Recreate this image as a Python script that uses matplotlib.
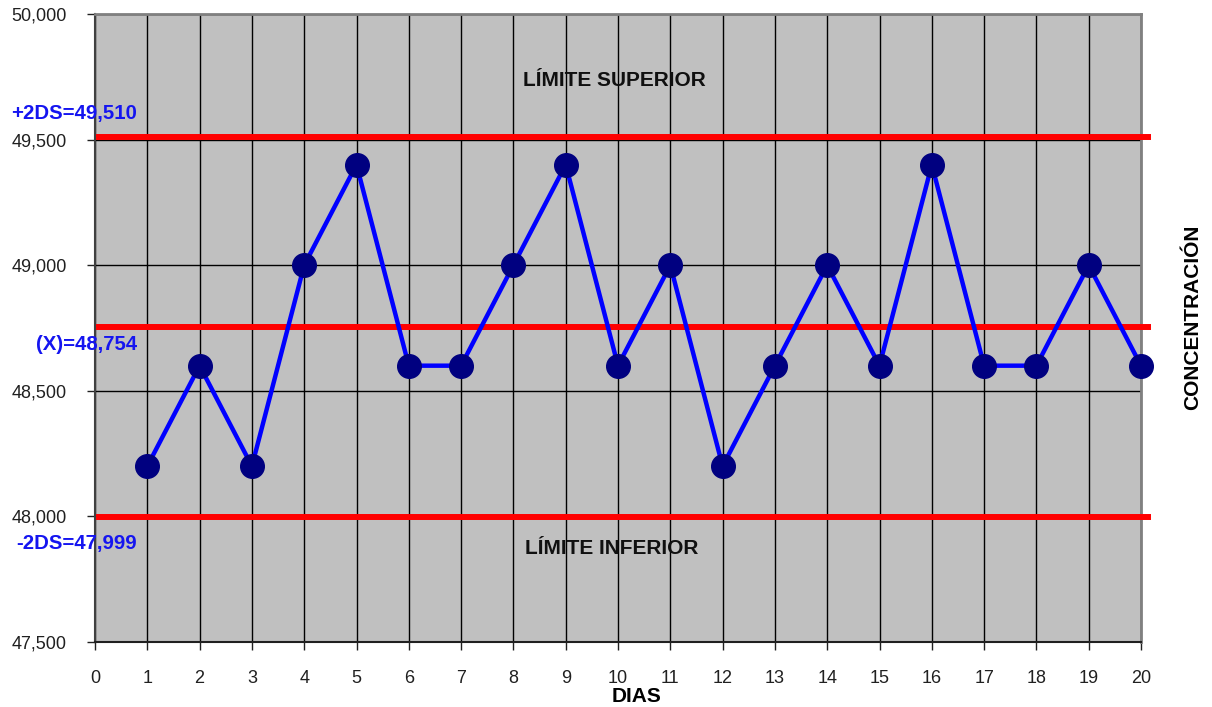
import matplotlib.pyplot as plt

plt.rcParams['font.family'] = ['Liberation Sans', 'DejaVu Sans']

# daily control values
dias = list(range(1, 21))
concentracion = [48200, 48600, 48200, 49000, 49400, 48600, 48600, 49000, 49400, 48600,
                 49000, 48200, 48600, 49000, 48600, 49400, 48600, 48600, 49000, 48600]

# control limits
lim_sup = 49510
media = 48754
lim_inf = 47999

W, H = 1212, 707
fig = plt.figure(figsize=(W / 100, H / 100), dpi=100)
ax = fig.add_axes([95 / W, 1 - 642 / H, (1141 - 95) / W, (642 - 14) / H])
ax.set_facecolor('#C0C0C0')

ax.set_xlim(0, 20)
ax.set_ylim(47500, 50000)
ax.set_xticks(range(0, 21))
ax.set_yticks(range(47500, 50001, 500))
ax.set_yticklabels(['{:,}'.format(v) for v in range(47500, 50001, 500)])
ax.grid(True, color='black', linewidth=1)
ax.set_axisbelow(True)
ax.tick_params(axis='both', labelsize=13, colors='#202020', length=6, width=1)
ax.tick_params(axis='x', pad=14)
ax.tick_params(axis='y', pad=14.5)

for s in ['top', 'right']:
    ax.spines[s].set_color('#808080')
    ax.spines[s].set_linewidth(2)
ax.spines['left'].set_color('#404040')
ax.spines['left'].set_linewidth(1.5)
ax.spines['bottom'].set_color('#202020')
ax.spines['bottom'].set_linewidth(1.5)

# limit lines
for v in [lim_sup, media, lim_inf]:
    ax.plot([0.08, 20.13], [v, v], color='#FF0000', linewidth=4.3, clip_on=False, zorder=3)

ax.plot(dias, concentracion, color='#0000FF', linewidth=3.2, marker='o',
        markersize=17, markerfacecolor='#000080', markeredgecolor='#000080',
        clip_on=False, zorder=4)

blue = '#1515F0'
lx = 137 / W
fig.text(lx, 1 - 114 / H, '+2DS={:,}'.format(lim_sup), color=blue, fontsize=14.7,
         fontweight='bold', ha='right', va='center')
fig.text(lx, 1 - 345 / H, '(X)={:,}'.format(media), color=blue, fontsize=14.7,
         fontweight='bold', ha='right', va='center')
fig.text(lx, 1 - 544 / H, '-2DS={:,}'.format(lim_inf), color=blue, fontsize=14.7,
         fontweight='bold', ha='right', va='center')

fig.text(614 / W, 1 - 80 / H, 'LÍMITE SUPERIOR', fontsize=15, fontweight='bold',
         ha='center', va='center', color='#101010')
fig.text(612 / W, 1 - 548 / H, 'LÍMITE INFERIOR', fontsize=15, fontweight='bold',
         ha='center', va='center', color='#101010')

fig.text(1193 / W, 1 - 317 / H, 'CONCENTRACIÓN', rotation=90, fontsize=15,
         fontweight='bold', ha='center', va='center')
fig.text(637 / W, 1 - 697 / H, 'DIAS', fontsize=15, fontweight='bold',
         ha='center', va='center')

fig.savefig('out.png', dpi=100)
